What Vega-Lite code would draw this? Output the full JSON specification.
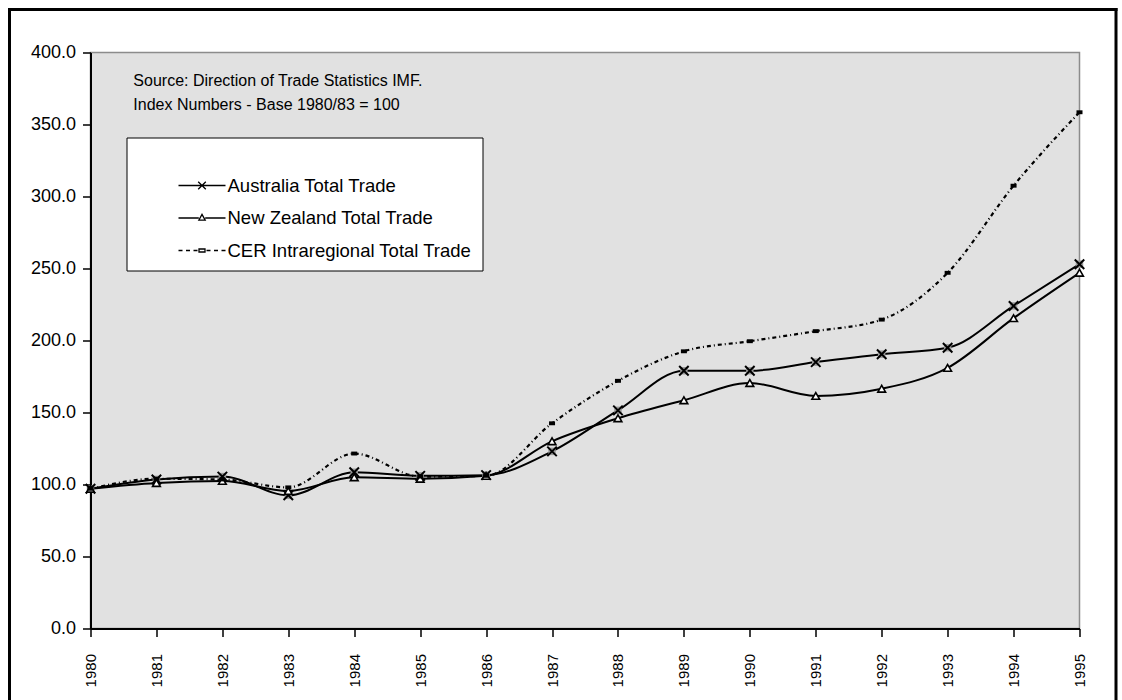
{
  "$schema": "https://vega.github.io/schema/vega-lite/v6.json",
  "width": 989,
  "height": 576,
  "padding": {"left": 6.5, "top": 6.5, "right": 5, "bottom": 0},
  "background": "white",
  "view": {"fill": "#e1e1e1", "stroke": "#8c8c8c", "strokeWidth": 1.5},
  "config": {
    "view": {"fill": "#e1e1e1", "stroke": "#8c8c8c", "strokeWidth": 1.5},
    "font": "Liberation Sans",
    "axis": {"grid": false, "domainColor": "black", "domainWidth": 2, "tickColor": "black", "tickWidth": 1.5, "tickSize": 8, "labelColor": "black", "labelFont": "Liberation Sans", "zindex": 1}
  },
  "datasets": {
    "trade": [
      {"year": 1980, "series": "Australia Total Trade", "value": 97},
      {"year": 1981, "series": "Australia Total Trade", "value": 103.5},
      {"year": 1982, "series": "Australia Total Trade", "value": 105.5},
      {"year": 1983, "series": "Australia Total Trade", "value": 92.5},
      {"year": 1984, "series": "Australia Total Trade", "value": 108.5},
      {"year": 1985, "series": "Australia Total Trade", "value": 106},
      {"year": 1986, "series": "Australia Total Trade", "value": 106.5},
      {"year": 1987, "series": "Australia Total Trade", "value": 123},
      {"year": 1988, "series": "Australia Total Trade", "value": 151.5},
      {"year": 1989, "series": "Australia Total Trade", "value": 179},
      {"year": 1990, "series": "Australia Total Trade", "value": 179},
      {"year": 1991, "series": "Australia Total Trade", "value": 185},
      {"year": 1992, "series": "Australia Total Trade", "value": 190.5},
      {"year": 1993, "series": "Australia Total Trade", "value": 195},
      {"year": 1994, "series": "Australia Total Trade", "value": 224},
      {"year": 1995, "series": "Australia Total Trade", "value": 253},
      {"year": 1980, "series": "New Zealand Total Trade", "value": 97},
      {"year": 1981, "series": "New Zealand Total Trade", "value": 101},
      {"year": 1982, "series": "New Zealand Total Trade", "value": 102.5},
      {"year": 1983, "series": "New Zealand Total Trade", "value": 95.5},
      {"year": 1984, "series": "New Zealand Total Trade", "value": 105},
      {"year": 1985, "series": "New Zealand Total Trade", "value": 104},
      {"year": 1986, "series": "New Zealand Total Trade", "value": 106},
      {"year": 1987, "series": "New Zealand Total Trade", "value": 130},
      {"year": 1988, "series": "New Zealand Total Trade", "value": 146},
      {"year": 1989, "series": "New Zealand Total Trade", "value": 158.5},
      {"year": 1990, "series": "New Zealand Total Trade", "value": 170.5},
      {"year": 1991, "series": "New Zealand Total Trade", "value": 161.5},
      {"year": 1992, "series": "New Zealand Total Trade", "value": 166.5},
      {"year": 1993, "series": "New Zealand Total Trade", "value": 181},
      {"year": 1994, "series": "New Zealand Total Trade", "value": 215.5},
      {"year": 1995, "series": "New Zealand Total Trade", "value": 247},
      {"year": 1980, "series": "CER Intraregional Total Trade", "value": 97},
      {"year": 1981, "series": "CER Intraregional Total Trade", "value": 104},
      {"year": 1982, "series": "CER Intraregional Total Trade", "value": 103.5},
      {"year": 1983, "series": "CER Intraregional Total Trade", "value": 98},
      {"year": 1984, "series": "CER Intraregional Total Trade", "value": 121.5},
      {"year": 1985, "series": "CER Intraregional Total Trade", "value": 105.5},
      {"year": 1986, "series": "CER Intraregional Total Trade", "value": 106},
      {"year": 1987, "series": "CER Intraregional Total Trade", "value": 142.5},
      {"year": 1988, "series": "CER Intraregional Total Trade", "value": 172},
      {"year": 1989, "series": "CER Intraregional Total Trade", "value": 192.5},
      {"year": 1990, "series": "CER Intraregional Total Trade", "value": 199.5},
      {"year": 1991, "series": "CER Intraregional Total Trade", "value": 206.5},
      {"year": 1992, "series": "CER Intraregional Total Trade", "value": 214.5},
      {"year": 1993, "series": "CER Intraregional Total Trade", "value": 247},
      {"year": 1994, "series": "CER Intraregional Total Trade", "value": 307.5},
      {"year": 1995, "series": "CER Intraregional Total Trade", "value": 358.5}
    ]
  },
  "layer": [
    {
      "data": {"values": [{}]},
      "mark": {"type": "rule", "color": "black", "strokeWidth": 3, "strokeCap": "square"},
      "encoding": {
        "x": {"datum": 1978.7715, "type": "quantitative", "scale": {"domain": [1980, 1995], "nice": false, "zero": false}, "title": null},
        "y": {"datum": 429.86, "type": "quantitative", "scale": {"domain": [0, 400], "nice": false, "zero": false}, "title": null},
        "y2": {"datum": -49.3}
      }
    },
    {
      "data": {"values": [{}]},
      "mark": {"type": "rule", "color": "black", "strokeWidth": 3, "strokeCap": "square"},
      "encoding": {
        "x": {"datum": 1978.7715, "type": "quantitative", "scale": {"domain": [1980, 1995], "nice": false, "zero": false}, "title": null},
        "x2": {"datum": 1995.5536},
        "y": {"datum": 429.86, "type": "quantitative", "scale": {"domain": [0, 400], "nice": false, "zero": false}, "title": null}
      }
    },
    {
      "data": {"values": [{}]},
      "mark": {"type": "rule", "color": "black", "strokeWidth": 3, "strokeCap": "square"},
      "encoding": {
        "x": {"datum": 1995.5536, "type": "quantitative", "scale": {"domain": [1980, 1995], "nice": false, "zero": false}, "title": null},
        "y": {"datum": 429.86, "type": "quantitative", "scale": {"domain": [0, 400], "nice": false, "zero": false}, "title": null},
        "y2": {"datum": -49.3}
      }
    },
    {
      "data": {"name": "trade"},
      "transform": [{"filter": "datum.series !== 'CER Intraregional Total Trade'"}],
      "mark": {"type": "line", "color": "black", "strokeWidth": 2, "interpolate": "monotone"},
      "encoding": {
        "x": {"field": "year", "type": "quantitative", "scale": {"domain": [1980, 1995], "nice": false, "zero": false}, "title": null,
          "axis": {"values": [1980, 1981, 1982, 1983, 1984, 1985, 1986, 1987, 1988, 1989, 1990, 1991, 1992, 1993, 1994, 1995], "format": "d", "labelAngle": 270, "labelFontSize": 15, "labelPadding": 17, "labelFlush": false, "labelOverlap": false, "labelBound": false}},
        "y": {"field": "value", "type": "quantitative", "scale": {"domain": [0, 400], "nice": false, "zero": false}, "title": null,
          "axis": {"values": [0, 50, 100, 150, 200, 250, 300, 350, 400], "format": ".1f", "labelFontSize": 18, "labelPadding": 7, "labelFlush": false, "labelOverlap": false}},
        "detail": {"field": "series", "type": "nominal"}
      }
    },
    {
      "data": {"name": "trade"},
      "transform": [{"filter": "datum.series === 'CER Intraregional Total Trade'"}],
      "mark": {"type": "line", "color": "black", "strokeWidth": 2.2, "strokeDash": [4, 3, 1, 3], "interpolate": "monotone"},
      "encoding": {
        "x": {"field": "year", "type": "quantitative"},
        "y": {"field": "value", "type": "quantitative"}
      }
    },
    {
      "data": {"name": "trade"},
      "transform": [{"filter": "datum.series === 'Australia Total Trade'"}],
      "mark": {"type": "point", "shape": "square", "size": 56, "filled": true, "fill": "#9a9a9a", "strokeWidth": 0, "opacity": 1},
      "encoding": {
        "x": {"field": "year", "type": "quantitative"},
        "y": {"field": "value", "type": "quantitative"}
      }
    },
    {
      "data": {"name": "trade"},
      "transform": [{"filter": "datum.series === 'Australia Total Trade'"}],
      "mark": {"type": "point", "shape": "M-1,-1L1,1M-1,1L1,-1", "size": 90, "filled": false, "stroke": "black", "strokeWidth": 2, "opacity": 1},
      "encoding": {
        "x": {"field": "year", "type": "quantitative"},
        "y": {"field": "value", "type": "quantitative"}
      }
    },
    {
      "data": {"name": "trade"},
      "transform": [{"filter": "datum.series === 'New Zealand Total Trade'"}],
      "mark": {"type": "point", "shape": "triangle-up", "size": 60, "filled": true, "fill": "white", "stroke": "black", "strokeWidth": 1.6, "opacity": 1},
      "encoding": {
        "x": {"field": "year", "type": "quantitative"},
        "y": {"field": "value", "type": "quantitative"}
      }
    },
    {
      "data": {"name": "trade"},
      "transform": [{"filter": "datum.series === 'CER Intraregional Total Trade'"}],
      "mark": {"type": "point", "shape": "M-1,-0.65L1,-0.65L1,0.65L-1,0.65Z", "size": 36, "filled": true, "fill": "black", "strokeWidth": 0, "opacity": 1},
      "encoding": {
        "x": {"field": "year", "type": "quantitative"},
        "y": {"field": "value", "type": "quantitative"}
      }
    },
    {
      "data": {"name": "trade"},
      "transform": [{"filter": "false"}],
      "mark": {"type": "point", "color": "black", "filled": false, "strokeWidth": 1.3, "opacity": 1},
      "encoding": {
        "shape": {
          "field": "series", "type": "nominal",
          "scale": {
            "domain": ["Australia Total Trade", "New Zealand Total Trade", "CER Intraregional Total Trade"],
            "range": [
              "M-2.35,0L2.35,0M-0.38,-0.38L0.38,0.38M-0.38,0.38L0.38,-0.38",
              "M-2.35,0L-0.32,0M0.32,0L2.35,0M-0.32,0.22L0,-0.36L0.32,0.22Z",
              "M-2.35,0L-1.95,0M-1.6,0L-1.2,0M-0.85,0L-0.45,0M0.45,0L0.85,0M1.2,0L1.6,0M1.95,0L2.35,0M-0.3,-0.15L0.3,-0.15L0.3,0.15L-0.3,0.15Z"
            ]
          },
          "legend": {
            "title": "\u00a0",
            "titleFontSize": 20,
            "titlePadding": 7,
            "orient": "none",
            "legendX": 36,
            "legendY": 85,
            "padding": 10,
            "fillColor": "white",
            "strokeColor": "black",
            "symbolSize": 400,
            "symbolOffset": 54.5,
            "labelOffset": 14.5,
            "rowPadding": 11.5,
            "labelFontSize": 18.5,
            "labelFont": "Liberation Sans",
            "labelColor": "black",
            "labelLimit": 400,
            "symbolStrokeColor": "black",
            "symbolStrokeWidth": 1.3,
            "encode": {
              "legend": {"update": {"strokeWidth": {"value": 1.5}}},
              "symbols": {"update": {"fill": {"signal": "datum.value === 'CER Intraregional Total Trade' ? 'black' : 'transparent'"}, "stroke": {"value": "black"}, "opacity": {"value": 1}}}
            }
          }
        }
      }
    },
    {
      "data": {"values": [{}]},
      "mark": {"type": "text", "align": "left", "baseline": "alphabetic", "fontSize": 16, "font": "Liberation Sans", "lineHeight": 24, "color": "black"},
      "encoding": {
        "x": {"datum": 1980.65, "type": "quantitative"},
        "y": {"datum": 376.4, "type": "quantitative"},
        "text": {"value": ["Source: Direction of Trade Statistics IMF.", "Index Numbers - Base 1980/83 = 100"]}
      }
    }
  ]
}
